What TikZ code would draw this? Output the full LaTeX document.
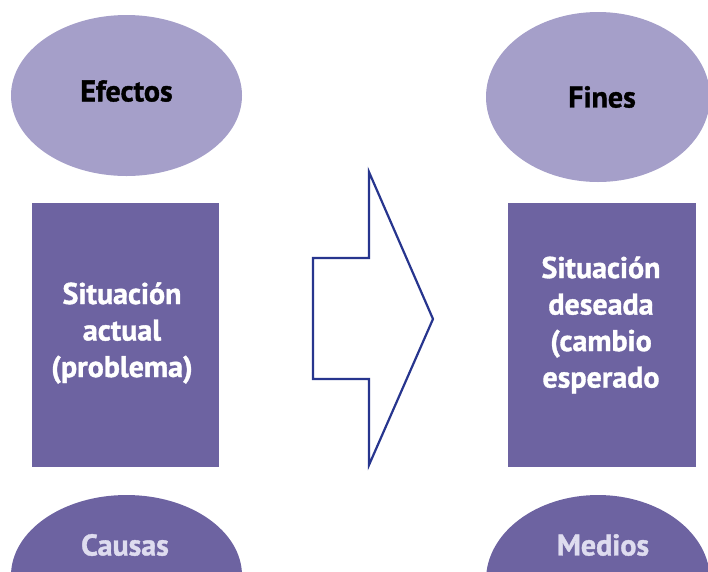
\documentclass[tikz,border=0pt]{standalone}
\usepackage{fontspec}
\setmainfont{PT Sans}[BoldFeatures={FakeBold=1.2}]
\definecolor{lightpurple}{HTML}{A59FC9}
\definecolor{darkpurple}{HTML}{6D63A1}
\definecolor{navy}{HTML}{27358E}
\definecolor{paletext}{HTML}{DEDCEF}
\tikzset{
  box/.style={fill=darkpurple, draw=none},
  lbl/.style={font=\bfseries\fontsize{30}{36.5}\selectfont, align=center, inner sep=0pt},
}
\usetikzlibrary{shapes.geometric}
\begin{document}
\begin{tikzpicture}[x=1pt,y=-1pt]
\useasboundingbox (0,0) rectangle (708,571);
\fill[lightpurple] (126.5,95.5) ellipse [x radius=115.5, y radius=80.5];
\node[lbl, text=black] (efectos) at (126.5,91) {Efectos};
\fill[lightpurple] (598,97) ellipse [x radius=112, y radius=85];
\node[lbl, text=black] (fines) at (602,97) {Fines};
\fill[box] (32,203) rectangle (219,467);
\node[lbl, text=white] (actual) at (122,333) {Situación\\actual\\(problema)};
\fill[box] (508,203) rectangle (696,467);
\node[lbl, text=white] (deseada) at (601,325) {Situación\\deseada\\(cambio\\esperado};
\fill[darkpurple] (126.5,575.5) ellipse [x radius=115.5, y radius=80.5];
\node[lbl, text=paletext] (causas) at (125,545) {Causas};
\fill[darkpurple] (598,580) ellipse [x radius=112, y radius=85];
\node[lbl, text=paletext] (medios) at (603,545) {Medios};
\draw[navy, line width=2.2pt, line join=miter, fill=white]
  (369,172) -- (433,319) -- (369,465) -- (369,379) -- (313,379) -- (313,258) -- (369,258) -- cycle;
\end{tikzpicture}
\end{document}
